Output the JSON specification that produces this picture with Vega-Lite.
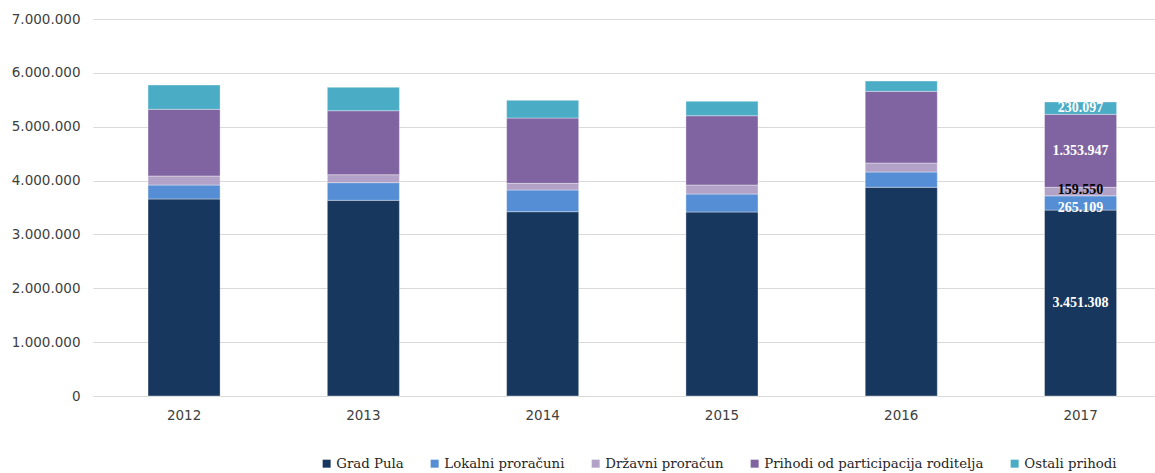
{
  "$schema": "https://vega.github.io/schema/vega-lite/v6.json",
  "autosize": "none",
  "width": 1062,
  "height": 377,
  "padding": {"left": 93, "top": 19, "right": 0, "bottom": 77},
  "background": "#ffffff",
  "config": {
    "locale": {"number": {"decimal": ",", "thousands": ".", "grouping": [3], "currency": ["", ""]}},
    "view": {"stroke": null},
    "axis": {"labelFont": "DejaVu Sans", "labelFontSize": 13.5, "labelColor": "#404040"}
  },
  "data": {
    "values": [
      {"year": "2012", "series": "Grad Pula", "k": 1, "value": 3658000},
      {"year": "2012", "series": "Lokalni proračuni", "k": 2, "value": 259000},
      {"year": "2012", "series": "Državni proračun", "k": 3, "value": 168000},
      {"year": "2012", "series": "Prihodi od participacija roditelja", "k": 4, "value": 1238000},
      {"year": "2012", "series": "Ostali prihodi", "k": 5, "value": 451000},
      {"year": "2013", "series": "Grad Pula", "k": 1, "value": 3633000},
      {"year": "2013", "series": "Lokalni proračuni", "k": 2, "value": 328000},
      {"year": "2013", "series": "Državni proračun", "k": 3, "value": 148000},
      {"year": "2013", "series": "Prihodi od participacija roditelja", "k": 4, "value": 1188000},
      {"year": "2013", "series": "Ostali prihodi", "k": 5, "value": 434000},
      {"year": "2014", "series": "Grad Pula", "k": 1, "value": 3422000},
      {"year": "2014", "series": "Lokalni proračuni", "k": 2, "value": 403000},
      {"year": "2014", "series": "Državni proračun", "k": 3, "value": 124000},
      {"year": "2014", "series": "Prihodi od participacija roditelja", "k": 4, "value": 1212000},
      {"year": "2014", "series": "Ostali prihodi", "k": 5, "value": 329000},
      {"year": "2015", "series": "Grad Pula", "k": 1, "value": 3416000},
      {"year": "2015", "series": "Lokalni proračuni", "k": 2, "value": 334000},
      {"year": "2015", "series": "Državni proračun", "k": 3, "value": 168000},
      {"year": "2015", "series": "Prihodi od participacija roditelja", "k": 4, "value": 1286000},
      {"year": "2015", "series": "Ostali prihodi", "k": 5, "value": 267000},
      {"year": "2016", "series": "Grad Pula", "k": 1, "value": 3875000},
      {"year": "2016", "series": "Lokalni proračuni", "k": 2, "value": 284000},
      {"year": "2016", "series": "Državni proračun", "k": 3, "value": 167000},
      {"year": "2016", "series": "Prihodi od participacija roditelja", "k": 4, "value": 1331000},
      {"year": "2016", "series": "Ostali prihodi", "k": 5, "value": 191000},
      {"year": "2017", "series": "Grad Pula", "k": 1, "value": 3451308, "label": true},
      {"year": "2017", "series": "Lokalni proračuni", "k": 2, "value": 265109, "label": true},
      {"year": "2017", "series": "Državni proračun", "k": 3, "value": 159550, "label": true},
      {"year": "2017", "series": "Prihodi od participacija roditelja", "k": 4, "value": 1353947, "label": true},
      {"year": "2017", "series": "Ostali prihodi", "k": 5, "value": 230097, "label": true}
    ]
  },
  "transform": [
    {"stack": "value", "groupby": ["year"], "sort": [{"field": "k", "order": "ascending"}], "as": ["v0", "v1"]},
    {"calculate": "(datum.v0 + datum.v1) / 2", "as": "mid"}
  ],
  "encoding": {
    "x": {
      "field": "year", "type": "nominal", "title": null,
      "scale": {"paddingInner": 0.598, "paddingOuter": 0.2605, "align": 0.589},
      "axis": {"labelAngle": 0, "domain": false, "ticks": false, "labelPadding": 12}
    }
  },
  "layer": [
    {
      "mark": {"type": "bar", "stroke": "#ffffff", "strokeWidth": 0.6, "strokeOpacity": 0.6},
      "encoding": {
        "y": {
          "field": "v0", "type": "quantitative", "title": null,
          "scale": {"domain": [0, 7000000], "nice": false},
          "axis": {
            "values": [0, 1000000, 2000000, 3000000, 4000000, 5000000, 6000000, 7000000],
            "format": ",d", "domain": false, "ticks": false, "labelPadding": 13,
            "gridColor": "#d9d9d9", "gridWidth": 1.2
          }
        },
        "y2": {"field": "v1"},
        "color": {
          "field": "series", "type": "nominal",
          "scale": {
            "domain": ["Grad Pula", "Lokalni proračuni", "Državni proračun", "Prihodi od participacija roditelja", "Ostali prihodi"],
            "range": ["#17375E", "#558ED5", "#B3A2C7", "#8064A2", "#4BACC6"]
          },
          "legend": {
            "title": null, "orient": "none", "direction": "horizontal", "columns": 5,
            "legendX": 227, "legendY": 438,
            "symbolType": "square", "symbolSize": 64, "symbolStrokeWidth": 0,
            "labelFont": "DejaVu Serif", "labelFontSize": 13.3, "labelColor": "#262626",
            "labelOffset": 3, "columnPadding": 24, "labelLimit": 400
          }
        },
        "order": {"field": "k", "type": "quantitative"}
      }
    },
    {
      "transform": [{"filter": "datum.label && datum.k !== 2 && datum.k !== 3"}],
      "mark": {"type": "text", "font": "Liberation Serif", "fontWeight": "bold", "fontSize": 14, "baseline": "middle", "align": "center", "color": "#ffffff"},
      "encoding": {
        "y": {"field": "mid", "type": "quantitative"},
        "text": {"field": "value", "type": "quantitative", "format": ",d"}
      }
    },
    {
      "transform": [{"filter": "datum.label && datum.k === 3"}],
      "mark": {"type": "text", "font": "Liberation Serif", "fontWeight": "bold", "fontSize": 14, "baseline": "middle", "align": "center", "color": "#000000", "dy": -2},
      "encoding": {
        "y": {"field": "mid", "type": "quantitative"},
        "text": {"field": "value", "type": "quantitative", "format": ",d"}
      }
    },
    {
      "transform": [{"filter": "datum.label && datum.k === 2"}],
      "mark": {"type": "text", "font": "Liberation Serif", "fontWeight": "bold", "fontSize": 14, "baseline": "middle", "align": "center", "color": "#ffffff", "dy": 5},
      "encoding": {
        "y": {"field": "mid", "type": "quantitative"},
        "text": {"field": "value", "type": "quantitative", "format": ",d"}
      }
    }
  ]
}
